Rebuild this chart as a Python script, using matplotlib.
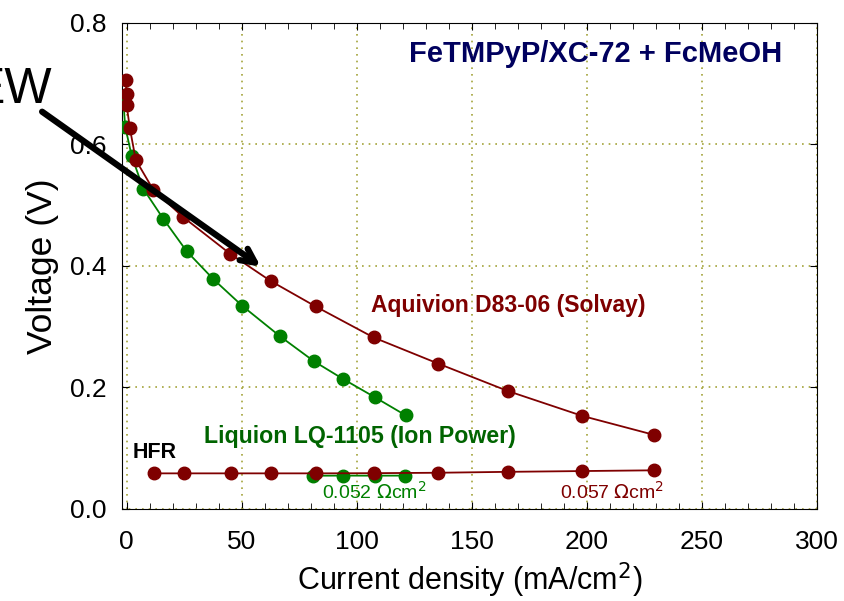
import matplotlib.pyplot as plt
from matplotlib.ticker import MultipleLocator

plt.rcParams["font.family"] = ["Liberation Sans", "DejaVu Sans"]

# Aquivion D83-06 (Solvay) polarization curve
aqui_j = [-0.4, 0.0, 0.0, 1.4, 4.0, 11.6, 24.6, 44.9, 62.6, 82.2, 107.4, 135.5, 165.7, 198.1, 229.1]
aqui_v = [0.705, 0.683, 0.665, 0.627, 0.574, 0.525, 0.480, 0.420, 0.375, 0.333, 0.282, 0.239, 0.194, 0.153, 0.122]

# Liquion LQ-1105 (Ion Power) polarization curve
liq_j = [-1.5, -0.6, 2.2, 7.2, 16.0, 26.1, 37.7, 50.3, 66.7, 81.4, 94.0, 107.8, 121.3]
liq_v = [0.676, 0.629, 0.581, 0.527, 0.477, 0.424, 0.378, 0.334, 0.284, 0.243, 0.214, 0.184, 0.154]

# high frequency resistance points
aqui_hfr_j = [12.0, 25.0, 45.2, 62.6, 82.3, 107.5, 135.5, 165.7, 198.1, 229.1]
aqui_hfr = [0.0585, 0.0585, 0.0585, 0.0585, 0.0585, 0.0588, 0.0595, 0.061, 0.0623, 0.0635]
liq_hfr_j = [80.9, 93.9, 108.0, 121.0]
liq_hfr = [0.0546, 0.0548, 0.0547, 0.0548]

RED = "#7f0000"
GREEN = "#008000"

fig = plt.figure(figsize=(8.44, 6.01), dpi=100)
ax = fig.add_axes([0.1445, 0.1532, 0.8231, 0.8093])

ax.plot(aqui_j, aqui_v, "-o", color=RED, lw=1.3, ms=9, zorder=4)
ax.plot(liq_j, liq_v, "-o", color=GREEN, lw=1.3, ms=9, zorder=3)
ax.plot(aqui_hfr_j, aqui_hfr, "-o", color=RED, lw=1.3, ms=9, zorder=4)
ax.plot(liq_hfr_j, liq_hfr, "-o", color=GREEN, lw=1.3, ms=9, zorder=3)

ax.set_xlim(-2, 300)
ax.set_ylim(0, 0.8)
ax.xaxis.set_major_locator(MultipleLocator(50))
ax.xaxis.set_minor_locator(MultipleLocator(10))
ax.yaxis.set_major_locator(MultipleLocator(0.2))
ax.yaxis.set_major_formatter(plt.FuncFormatter(lambda v, p: f"{v:.1f}"))
ax.tick_params(axis="both", which="both", direction="in", top=True, right=True)
ax.tick_params(axis="both", which="major", length=5, labelsize=19)
ax.tick_params(axis="x", which="major", pad=15)
ax.tick_params(axis="y", which="major", pad=11)
ax.tick_params(axis="x", which="minor", length=4)
ax.grid(True, which="major", color="#a3a33a", linestyle=(0, (1, 3)), lw=1.2)

ax.set_xlabel("Current density (mA/cm$^2$)", fontsize=22, labelpad=5)
ax.set_ylabel("Voltage (V)", fontsize=25.5, labelpad=8)

ax.text(0.951, 0.935, "FeTMPyP/XC-72 + FcMeOH", transform=ax.transAxes, ha="right", va="center",
        fontsize=21, fontweight="bold", color="#00005e")
ax.text(166, 0.335, "Aquivion D83-06 (Solvay)", ha="center", va="center", fontsize=16.5,
        fontweight="bold", color=RED)
ax.text(101.4, 0.119, "Liquion LQ-1105 (Ion Power)", ha="center", va="center", fontsize=16.7,
        fontweight="bold", color="#006400")
ax.text(2.7, 0.093, "HFR", ha="left", va="center", fontsize=15.5, fontweight="bold", color="black")
ax.text(85, 0.028, "0.052 $\\Omega$cm$^2$", ha="left", va="center", fontsize=14, color=GREEN)
ax.text(188.5, 0.028, "0.057 $\\Omega$cm$^2$", ha="left", va="center", fontsize=14, color=RED)

ax.annotate("", xy=(59.3, 0.396), xytext=(-37.7, 0.656), annotation_clip=False,
            arrowprops=dict(arrowstyle="->,head_length=1.0,head_width=0.5", lw=4.5, color="black"),
            zorder=6)
fig.text(0.062, 0.85, "EW", ha="right", va="center", fontsize=36, color="black")

fig.savefig("out.png", dpi=100)
